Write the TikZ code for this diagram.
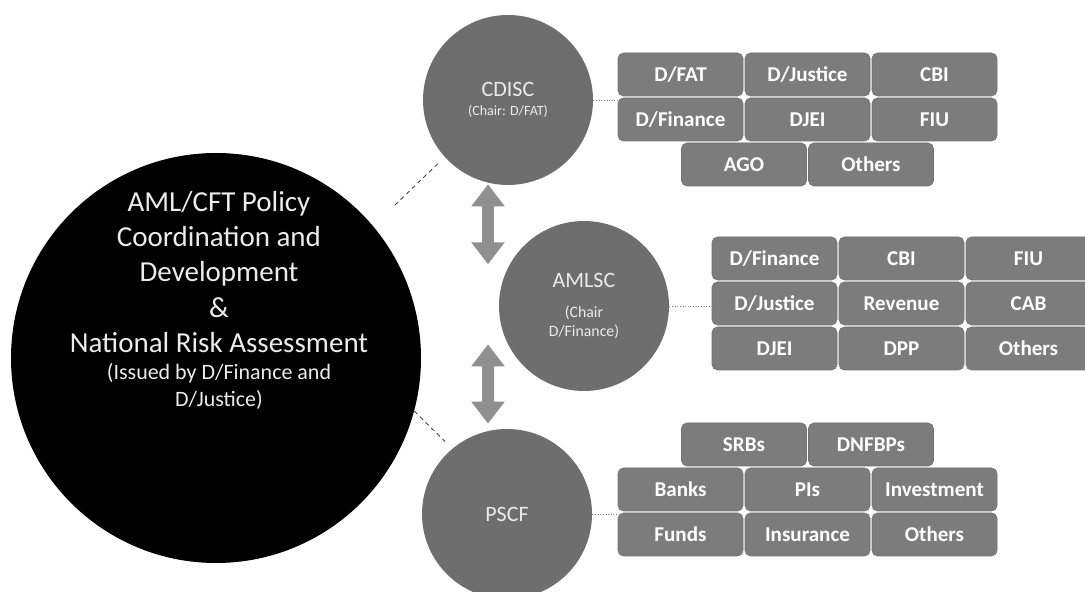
\documentclass[tikz,border=0pt]{standalone}
\usepackage{fontspec}
\setmainfont{Carlito}
\usepackage{xcolor}
\usetikzlibrary{arrows.meta, calc}

\definecolor{circlegray}{HTML}{6E6E6E}
\definecolor{boxgray}{HTML}{7C7C7C}
\definecolor{arrowgray}{HTML}{8F8F8F}

\begin{document}
\begin{tikzpicture}[
  every node/.style={font=\small},
  committee/.style={circle, fill=circlegray, text=white!92!black, align=center, minimum size=3.4cm, inner sep=0pt},
  member/.style={draw=black!55, line width=0.3pt, fill=boxgray, rounded corners=3pt, text=white, font=\fontsize{12}{14}\selectfont\bfseries, minimum width=2.5cm, minimum height=0.86cm, inner sep=0pt},
  link/.style={densely dotted, gray, line width=0.5pt},
  spoke/.style={black!75, line width=0.5pt, dash pattern=on 2.5pt off 2pt},
  twoway/.style={arrowgray, line width=0.24cm, {Triangle[width=0.64cm, length=0.44cm]}-{Triangle[width=0.64cm, length=0.44cm]}}]
  \useasboundingbox (0,0) rectangle (21.7,11.84);

  \node[circle, fill=black, minimum size=8.2cm, inner sep=0pt] (policy) at (4.32,4.68) {};
  \node[align=center, text=white!92!black, font=\fontsize{16.5}{20}\selectfont] (policytxt) at ($(policy.center)+(0.06,1.72)$) {AML/CFT Policy\\Coordination and\\Development\\\&\\National Risk Assessment};
  \node[align=center, text=white!92!black, font=\fontsize{12.5}{15.4}\selectfont] (policysub) at ($(policy.center)+(0.06,-0.57)$) {(Issued by D/Finance and\\D/Justice)};

  \node[committee] (cdisc) at (10.16,9.84) {{\fontsize{12.5}{14}\selectfont CDISC}\\{\fontsize{8}{10}\selectfont (Chair: D/FAT)}};
  \node[committee] (amlsc) at (11.68,5.72) {{\fontsize{12.5}{14}\selectfont AMLSC}\\[6pt]{\fontsize{9}{11}\selectfont (Chair}\\{\fontsize{9}{11}\selectfont D/Finance)}};
  \node[committee] (pscf) at (10.14,1.56) {{\fontsize{12.5}{14}\selectfont PSCF}};

  \node[member] (cdFat) at (13.61,10.35) {D/FAT};
  \node[member] (cdJustice) at (16.15,10.35) {D/Justice};
  \node[member] (cdCbi) at (18.69,10.35) {CBI};
  \node[member] (cdFinance) at (13.61,9.45) {D/Finance};
  \node[member] (cdDjei) at (16.15,9.45) {DJEI};
  \node[member] (cdFiu) at (18.69,9.45) {FIU};
  \node[member] (cdAgo) at (14.88,8.55) {AGO};
  \node[member] (cdOthers) at (17.42,8.55) {Others};

  \node[member] (amFinance) at (15.49,6.67) {D/Finance};
  \node[member] (amCbi) at (18.03,6.67) {CBI};
  \node[member] (amFiu) at (20.57,6.67) {FIU};
  \node[member] (amJustice) at (15.49,5.77) {D/Justice};
  \node[member] (amRevenue) at (18.03,5.77) {Revenue};
  \node[member] (amCab) at (20.57,5.77) {CAB};
  \node[member] (amDjei) at (15.49,4.87) {DJEI};
  \node[member] (amDpp) at (18.03,4.87) {DPP};
  \node[member] (amOthers) at (20.57,4.87) {Others};

  \node[member] (psSrb) at (14.88,2.95) {SRBs};
  \node[member] (psDnfbp) at (17.42,2.95) {DNFBPs};
  \node[member] (psBanks) at (13.61,2.05) {Banks};
  \node[member] (psPi) at (16.15,2.05) {PIs};
  \node[member] (psInvest) at (18.69,2.05) {Investment};
  \node[member] (psFunds) at (13.61,1.15) {Funds};
  \node[member] (psInsurance) at (16.15,1.15) {Insurance};
  \node[member] (psOthers) at (18.69,1.15) {Others};

  \draw[link] (cdisc.east) -- (cdisc.east -| cdFinance.west);
  \draw[link] (amlsc.east) -- (amlsc.east -| amJustice.west);
  \draw[link] (pscf.east) -- (pscf.east -| psFunds.west);

  \coordinate (cdiscFoot) at ($(cdisc.south)+(-0.4,0.02)$);
  \coordinate (amlscHead) at ($(cdiscFoot)+(0,-1.6)$);
  \coordinate (amlscFoot) at ($(cdiscFoot)+(0,-3.2)$);
  \coordinate (pscfHead) at ($(pscf.north)+(-0.38,0.1)$);
  \draw[twoway] (cdiscFoot) -- (amlscHead);
  \draw[twoway] (amlscFoot) -- (pscfHead);

  \draw[spoke, shorten <=0.6cm, shorten >=0.15cm] (policy.40) -- (cdisc.222);
  \draw[spoke, shorten >=0.2cm] (policy.-15) -- (pscf.130);
\end{tikzpicture}
\end{document}
